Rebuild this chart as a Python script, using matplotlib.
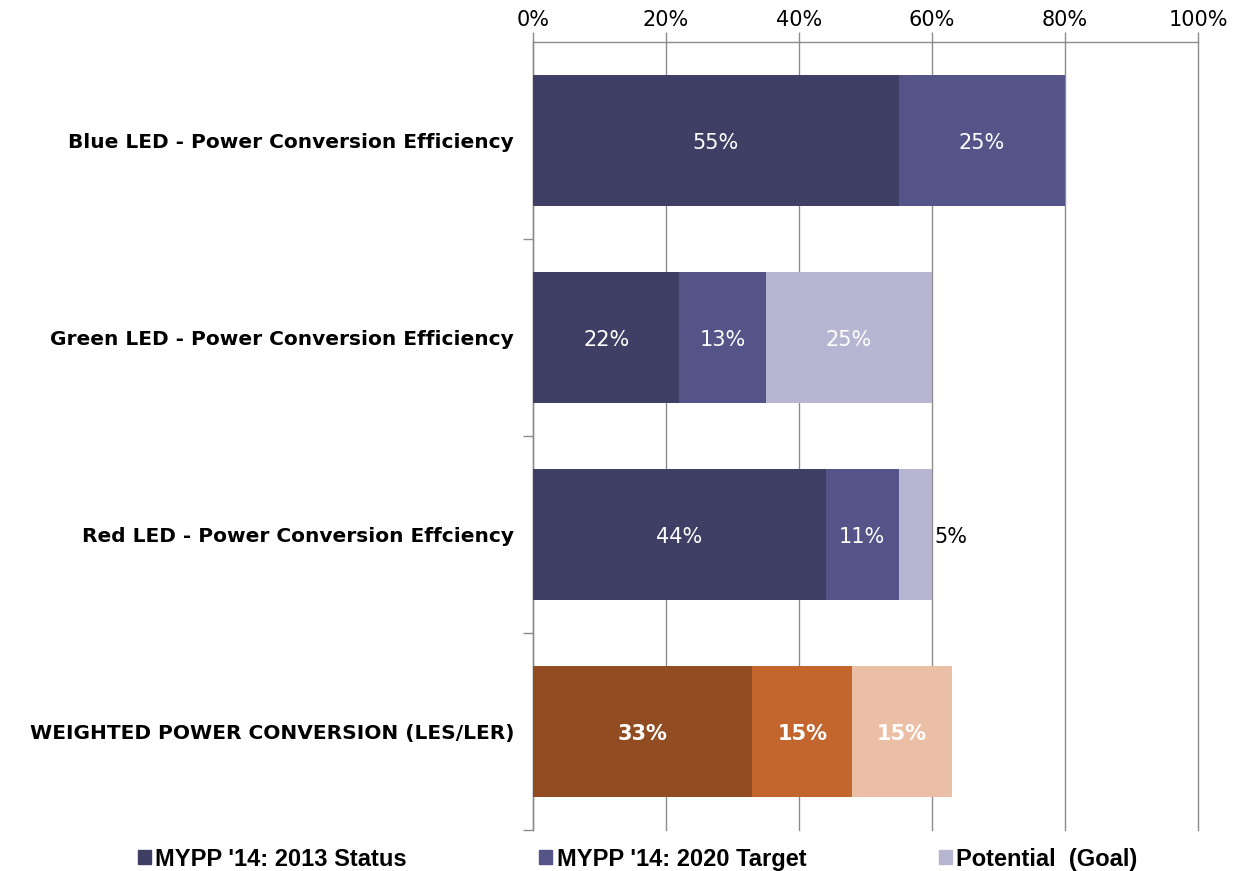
import matplotlib
matplotlib.use("Agg")
import matplotlib.pyplot as plt
from matplotlib.patches import Rectangle
import numpy as np

categories = ["Blue LED - Power Conversion Efficiency",
              "Green LED - Power Conversion Efficiency",
              "Red LED - Power Conversion Effciency",
              "WEIGHTED POWER CONVERSION (LES/LER)"]
status_2013 = [55, 22, 44, 33]
target_2020 = [25, 13, 11, 15]
potential = [0, 25, 5, 15]
series_names = ["MYPP '14: 2013 Status", "MYPP '14: 2020 Target", "Potential  (Goal)"]
xticks = [0, 20, 40, 60, 80, 100]

blue_cols = ["#3F3F66", "#545489", "#B6B6D3"]
orange_cols = ["#914C22", "#C3662E", "#EBBFA5"]

fig = plt.figure(figsize=(12.38, 8.71), dpi=100)
ax = fig.add_axes([533/1238, 1-830/871, (1198-533)/1238, (830-42)/871])

y = np.arange(len(categories))
series = [status_2013, target_2020, potential]
left = np.zeros(len(categories))
bh = 0.67
for si, vals in enumerate(series):
    vals = np.array(vals, dtype=float)
    cols = [orange_cols[si] if i == 3 else blue_cols[si] for i in range(len(categories))]
    ax.barh(y, vals, left=left, height=bh, color=cols, zorder=3, linewidth=0)
    for i, v in enumerate(vals):
        if v <= 0:
            continue
        cx = left[i] + v / 2
        if i == 3:
            ax.text(cx, y[i], f"{int(v)}%", ha="center", va="center_baseline", color="white",
                    fontsize=15, fontweight="bold", zorder=4)
        elif v < 8:
            ax.text(left[i] + v + 0.4, y[i], f"{int(v)}%", ha="left", va="center_baseline",
                    color="black", fontsize=15, zorder=4)
        else:
            ax.text(cx, y[i], f"{int(v)}%", ha="center", va="center_baseline", color="white",
                    fontsize=15, zorder=4)
    left += vals

ax.set_xlim(0, 100)
ax.set_ylim(len(categories) - 0.5, -0.5)
ax.set_xticks(xticks)
ax.set_xticklabels([f"{t}%" for t in xticks], fontsize=15)
ax.xaxis.tick_top()
ax.tick_params(axis="x", length=7, color="#8C8C8C", pad=2, width=1)
ax.grid(axis="x", color="#8C8C8C", linewidth=1, zorder=0)
for gl in ax.get_xgridlines():
    gl.set_clip_on(False)

ax.set_yticks(y)
ax.set_yticklabels(categories, fontsize=14.5, fontweight="bold")
ax.tick_params(axis="y", length=0, pad=13.5)
ax.set_yticks(np.arange(0.5, len(categories), 1.0), minor=True)
ax.tick_params(axis="y", which="minor", length=7, color="#8C8C8C", width=1)

for s in ["right", "bottom"]:
    ax.spines[s].set_visible(False)
for s in ["top", "left"]:
    ax.spines[s].set_color("#8C8C8C")
    ax.spines[s].set_linewidth(1)

# legend
handles = [Rectangle((0, 0), 1, 1, color=blue_cols[i]) for i in range(3)]
leg = fig.legend(handles, series_names, loc="center", bbox_to_anchor=(0.515, 1-859/871),
                 ncol=3, frameon=False, handlelength=0.55, handleheight=0.55,
                 handletextpad=0.2, columnspacing=5.6,
                 prop={"family": "Liberation Sans", "weight": "bold", "size": 17})

fig.savefig("out.png", dpi=100)
